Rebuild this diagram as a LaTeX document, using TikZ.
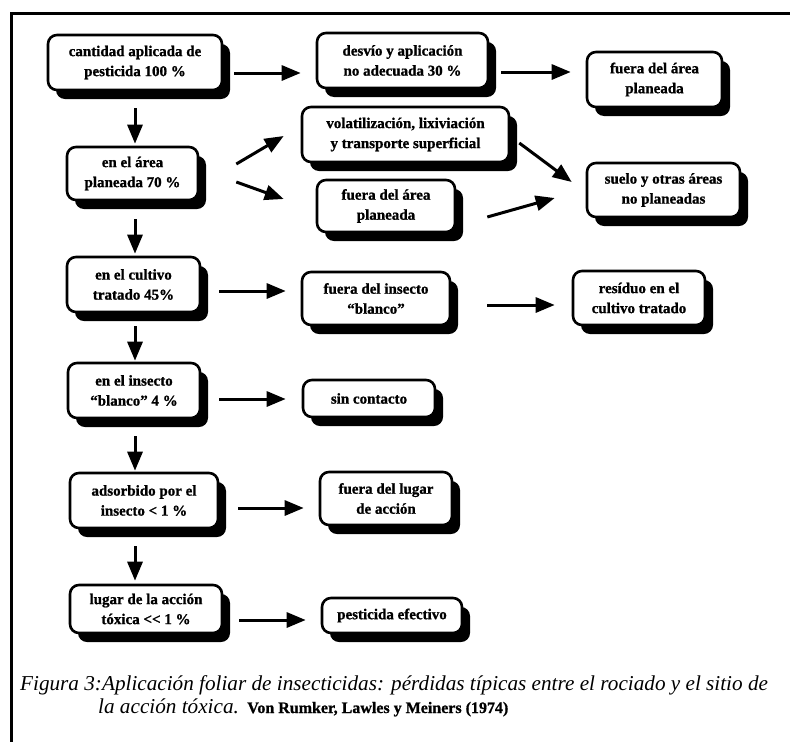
\documentclass[tikz,border=0pt]{standalone}
\usepackage{fontspec}
\setmainfont{Liberation Serif}
\newfontfamily\boxfont[FakeBold=1,Ligatures=TeX]{Liberation Serif Bold}
\usetikzlibrary{arrows.meta,shadows}
\begin{document}
\begin{tikzpicture}[x=1pt,y=-1pt,
  stepbox/.style={draw=black, line width=2.6pt, rounded corners=9pt, fill=white,
    align=center, inner sep=0pt,
    font=\boxfont\fontsize{15}{20}\selectfont,
    drop shadow={shadow xshift=8pt, shadow yshift=-9pt, opacity=1, fill=black}},
  arr/.style={line width=3pt, -{Triangle[length=19pt,width=15pt]}},
  frameline/.style={line width=3pt},
  captext/.style={anchor=base west, inner sep=0pt, font=\itshape\fontsize{21.2}{25}\selectfont}
]
\useasboundingbox (0,0) rectangle (790,742);

% page frame (top and left rules)
\draw[frameline] (790,13) -- (11,13) -- (11,742);

% boxes
\node[stepbox, minimum width=174pt, minimum height=55pt] (b1) at (135,62.5) {cantidad aplicada de\\pesticida 100 \%};
\node[stepbox, minimum width=171pt, minimum height=55pt] (b2) at (402.5,60.5) {desvío y aplicación\\no adecuada 30 \%};
\node[stepbox, minimum width=135pt, minimum height=55pt] (b3) at (654.5,79.5) {fuera del área\\planeada};
\node[stepbox, minimum width=131pt, minimum height=53pt] (b4) at (132.5,173.5) {en el área\\planeada 70 \%};
\node[stepbox, minimum width=207pt, minimum height=55pt] (b5) at (405.5,134.5) {volatilización, lixiviación\\y transporte superficial};
\node[stepbox, minimum width=138pt, minimum height=52pt] (b6) at (386,206) {fuera del área\\planeada};
\node[stepbox, minimum width=153pt, minimum height=54pt] (b9) at (663.5,190) {suelo y otras áreas\\no planeadas};
\node[stepbox, minimum width=133pt, minimum height=55pt] (b7) at (133.5,284.5) {en el cultivo\\tratado 45\%};
\node[stepbox, minimum width=148pt, minimum height=53pt] (b8) at (376,298.5) {fuera del insecto\\“blanco”};
\node[stepbox, minimum width=132pt, minimum height=54pt] (b10) at (639,298) {resíduo en el\\cultivo tratado};
\node[stepbox, minimum width=132pt, minimum height=55pt] (b11) at (134,390.5) {en el insecto\\“blanco” 4 \%};
\node[stepbox, minimum width=132pt, minimum height=37pt] (b12) at (369,398.5) {sin contacto};
\node[stepbox, minimum width=148pt, minimum height=55pt] (b13) at (144,500.5) {adsorbido por el\\insecto < 1 \%};
\node[stepbox, minimum width=132pt, minimum height=53pt] (b14) at (386,498.5) {fuera del lugar\\de acción};
\node[stepbox, minimum width=152pt, minimum height=48pt] (b15) at (146,609) {lugar de la acción\\tóxica {<}{<} 1 \%};
\node[stepbox, minimum width=140pt, minimum height=35pt] (b16) at (392,615.5) {pesticida efectivo};

% connectors
\draw[arr] ([shift={(11,10.5)}]b1.east) -- ([shift={(-15,12.5)}]b2.west);
\draw[arr] ([shift={(12,11.5)}]b2.east) -- ([shift={(-15,-7.5)}]b3.west);
\draw[arr] ([shift={(0,17)}]b1.south) -- ([shift={(2.5,-2)}]b4.north);
\draw[arr] ([shift={(37,-9.5)}]b4.east) -- ([shift={(-17,1.5)}]b5.west);
\draw[arr] ([shift={(37,8.5)}]b4.east) -- ([shift={(-32,-7)}]b6.west);
\draw[arr] ([shift={(9,8.5)}]b5.east) -- ([shift={(-14,-8)}]b9.west);
\draw[arr] ([shift={(31,11)}]b6.east) -- ([shift={(-31,8)}]b9.west);
\draw[arr] ([shift={(2.5,18)}]b4.south) -- ([shift={(1.5,-2)}]b7.north);
\draw[arr] ([shift={(18,6.5)}]b7.east) -- ([shift={(-15,-7.5)}]b8.west);
\draw[arr] ([shift={(36,6.5)}]b8.east) -- ([shift={(-17,7)}]b10.west);
\draw[arr] ([shift={(1.5,13)}]b7.south) -- ([shift={(1,-1)}]b11.north);
\draw[arr] ([shift={(18,8.5)}]b11.east) -- ([shift={(-16,0.5)}]b12.west);
\draw[arr] ([shift={(1,17)}]b11.south) -- ([shift={(-9,-1)}]b13.north);
\draw[arr] ([shift={(19,7.5)}]b13.east) -- ([shift={(-15,9.5)}]b14.west);
\draw[arr] ([shift={(-9,17)}]b13.south) -- ([shift={(-11,-3)}]b15.north);
\draw[arr] ([shift={(16,11)}]b15.east) -- ([shift={(-15,4.5)}]b16.west);

% caption
\node[captext] (cap1) at (20,690)
  {Figura 3:Aplicación foliar de insecticidas: pérdidas típicas entre el rociado y el sitio de};
\node[captext] (cap2) at (98,713) {la acción tóxica.};
\node[anchor=base west, inner sep=0pt, font=\boxfont\fontsize{16}{20}\selectfont] (cite) at ([xshift=8pt]cap2.base east)
  {Von Rumker, Lawles y Meiners (1974)};
\end{tikzpicture}
\end{document}
